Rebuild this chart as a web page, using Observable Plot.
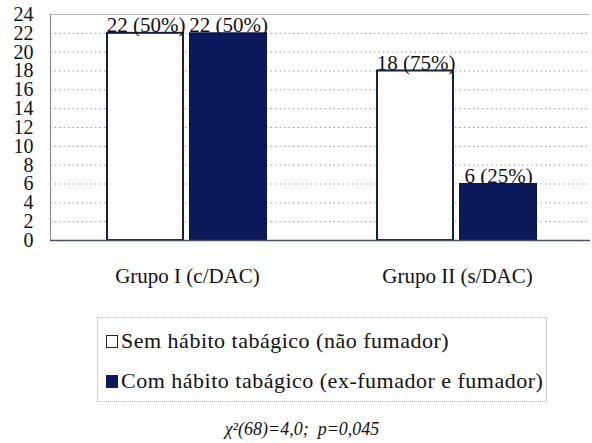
<!DOCTYPE html>
<html>
<head>
<meta charset="utf-8">
<script src="https://cdn.jsdelivr.net/npm/d3@7"></script>
<script src="https://cdn.jsdelivr.net/npm/@observablehq/plot@0.6"></script>
<style>
  html, body { margin: 0; padding: 0; background: #fff; }
  body { width: 592px; height: 443px; overflow: hidden; font-family: "Times New Roman", "Liberation Serif", Tinos, "DejaVu Serif", serif; }
  #chart svg { display: block; }
  .legend { margin-left: 97px; margin-top: 17px; width: 450px; height: 85px; box-sizing: border-box;
            border: 1px dotted #b5b5b5; border-left-style: solid; border-right-style: solid; border-left-color: #d0d0d0; border-right-color: #d0d0d0;
            padding-top: 8px; }
  .row { display: flex; align-items: center; height: 30px; font-size: 22px; color: #111; letter-spacing: 0.5px; }
  .row + .row { margin-top: 10px; }
  .sw { width: 12px; height: 13px; margin-left: 8px; margin-right: 3px; box-sizing: border-box; }
  .caption { text-align: center; font-style: italic; font-size: 18px; margin-top: 17px; padding-left: 12px; color: #111; }
</style>
</head>
<body>
<div id="chart"></div>
<div class="legend">
  <div class="row"><div class="sw" style="background:#fff;border:1.5px solid #222;"></div><span id="l0"></span></div>
  <div class="row"><div class="sw" style="background:#0c1a5c;"></div><span id="l1"></span></div>
</div>
<div class="caption">χ²(68)=4,0;&nbsp; p=0,045</div>
<script>
const groups = ["Grupo I (c/DAC)", "Grupo II (s/DAC)"];
const series = ["Sem hábito tabágico (não fumador)", "Com hábito tabágico (ex-fumador e fumador)"];
const semValues = [22, 18];
const comValues = [22, 6];
const semLabels = ["22 (50%)", "18 (75%)"];
const comLabels = ["22 (50%)", "6 (25%)"];
const yTicks = [0, 2, 4, 6, 8, 10, 12, 14, 16, 18, 20, 22, 24];

document.getElementById("l0").textContent = series[0];
document.getElementById("l1").textContent = series[1];

const sem = groups.map((g, i) => ({group: g, value: semValues[i], label: semLabels[i]}));
const com = groups.map((g, i) => ({group: g, value: comValues[i], label: comLabels[i]}));
const navy = "#0c1a5c";
const serifFont = "'Times New Roman', 'Liberation Serif', Tinos, 'DejaVu Serif', serif";

const chart = Plot.plot({
  width: 592,
  height: 300,
  marginLeft: 50,
  marginRight: 2,
  marginTop: 14,
  marginBottom: 60,
  style: {fontFamily: serifFont, background: "#fff", color: "#111"},
  x: {domain: groups, padding: 0, label: null},
  y: {domain: [0, 24], label: null},
  marks: [
    Plot.ruleY(yTicks.filter(d => d > 0 && d < 24), {stroke: "#9a9a9a", strokeDasharray: "1.5,3", strokeWidth: 1}),
    Plot.ruleY([24], {stroke: "#b8b8c0", strokeWidth: 1}),
    Plot.frame({anchor: "left", stroke: "#8a8a98", strokeWidth: 1.2}),
    Plot.barY(sem, {x: "group", y: "value", fill: "#fff", stroke: "#1a1f3c", strokeWidth: 2, insetLeft: 57, insetRight: 137}),
    Plot.barY(com, {x: "group", y: "value", fill: navy, stroke: "#0a1448", strokeWidth: 1, insetLeft: 139.5, insetRight: 53.5}),
    Plot.ruleY([0], {stroke: "#4a4e66", strokeWidth: 1.6}),
    Plot.text(sem, {x: "group", y: "value", text: "label", dx: -39.5, lineAnchor: "bottom", dy: -1, fontSize: 21, fill: "#111", fontFamily: serifFont}),
    Plot.text(com, {x: "group", y: "value", text: "label", dx: 43, lineAnchor: "bottom", dy: -1, fontSize: 21, fill: "#111", fontFamily: serifFont}),
    Plot.axisY({ticks: yTicks, tickSize: 0, tickPadding: 17, fontSize: 20, label: null, fontFamily: serifFont}),
    Plot.axisX({tickSize: 0, tickPadding: 28, fontSize: 21, label: null, dx: 2, fontFamily: serifFont})
  ]
});
document.getElementById("chart").append(chart);
</script>
</body>
</html>
